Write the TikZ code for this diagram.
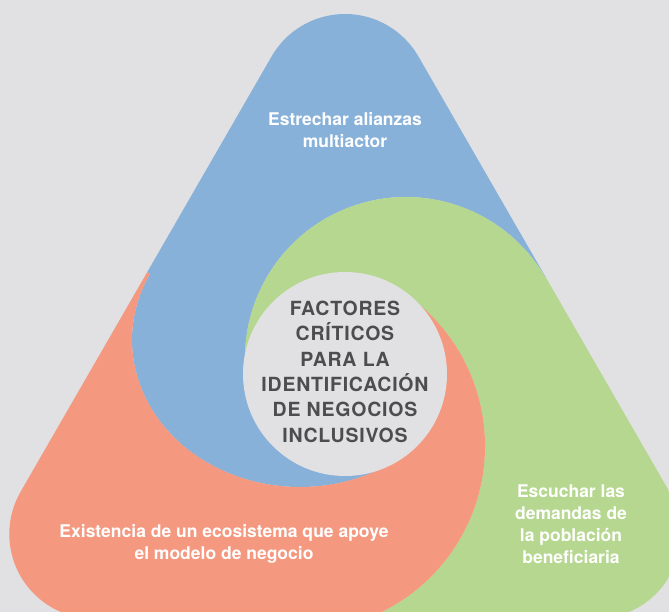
\documentclass[tikz,border=0pt]{standalone}
\usepackage{fontspec}
\setmainfont{TeX Gyre Heros}
\newfontfamily\titulofont[LetterSpace=4]{TeX Gyre Heros}
\usetikzlibrary{calc}

\definecolor{fondo}{HTML}{E1E1E3}
\definecolor{azul}{HTML}{87B1D9}
\definecolor{verde}{HTML}{B6D78F}
\definecolor{salmon}{HTML}{F49880}
\definecolor{texto}{HTML}{4D4D4F}

\tikzset{
  etiqueta/.style={text=white, font=\bfseries\fontsize{17.5}{22}\selectfont, align=center, inner sep=0pt},
  centro/.style={text=texto, font=\titulofont\bfseries\fontsize{19.5}{25.3}\selectfont, align=center, inner sep=0pt},
}

\begin{document}
\begin{tikzpicture}[x=1pt, y=-1pt]
    \useasboundingbox (0,0) rectangle (669,612);
    \fill[fondo] (0,0) rectangle (669,612);

    % esquinas del triangulo
    \coordinate (T) at (345,98.7);
    \coordinate (L) at (94,534);
    \coordinate (R) at (596,534);
    \def\rc{84.7}

    % bulbos y circulo central
    \coordinate (B) at (300,340);
    \coordinate (G) at (406,358);
    \coordinate (S) at (300,446);
    \coordinate (C) at (345,374);

    \coordinate (tB) at ($(B)+(206.8:168 and 147)$);
    \coordinate (tG) at ($(G)+(330:161)$);
    \coordinate (tS) at ($(S)+(90:185)$);

    \begin{scope}
        \clip ($(T)+(210:\rc)$) arc[start angle=210, end angle=330, radius=\rc]
            -- ($(R)+(330:\rc)$) arc[start angle=-30, end angle=90, radius=\rc]
            -- ($(L)+(90:\rc)$) arc[start angle=90, end angle=210, radius=\rc] -- cycle;

        \fill[azul] (tB) -- ($(tB)+(210:200)$) -- (-23,-40) -- (720,-40) -- ($(tG)+(330:200)$) -- (tG)
            arc[start angle=330, end angle=165, radius=161]
            -- ($(B)+(55:168 and 147)$)
            arc[start angle=55, end angle=206.8, x radius=168, y radius=147] -- cycle;

        \fill[verde] (tG) -- ($(tG)+(330:200)$) -- (720,720) -- ($(tS)+(90:200)$) -- (tS)
            arc[start angle=90, end angle=-58, radius=185]
            -- ($(G)+(170:161)$)
            arc[start angle=170, end angle=330, radius=161] -- cycle;

        \fill[salmon] (tS) -- ($(tS)+(90:200)$) -- (-60,720) -- ($(tB)+(210:200)$) -- (tB)
            arc[start angle=206.8, end angle=55, x radius=168, y radius=147]
            -- ($(S)+(-58:185)$)
            arc[start angle=-58, end angle=90, radius=185] -- cycle;
    \end{scope}

    \fill[fondo] (C) circle (102);

    \node[centro] (factores) at (345,371.7) {FACTORES\\CRÍTICOS\\PARA LA\\IDENTIFICACIÓN\\DE NEGOCIOS\\INCLUSIVOS};

    \node[etiqueta] (alianzas) at (345,130) {Estrechar alianzas\\multiactor};
    \node[etiqueta] (ecosistema) at (224,544) {Existencia de un ecosistema que apoye\\el modelo de negocio};
    \node[etiqueta] (demandas) at (571,524) {Escuchar las\\demandas de\\la población\\beneficiaria};
\end{tikzpicture}
\end{document}
